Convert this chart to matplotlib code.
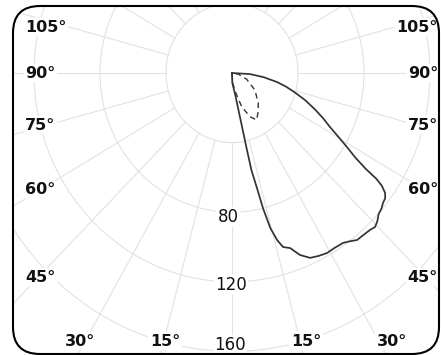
import numpy as np
import matplotlib.pyplot as plt
from matplotlib.patches import FancyBboxPatch
from matplotlib.transforms import IdentityTransform

# ---- data (angle from nadir in degrees, intensity in cd) ----
solid_angle = [0, 2, 9, 10.8, 11.6, 11.9, 12.9, 13.6, 14.6, 15.9, 17.2, 19.3,
               21.5, 24.0, 26.5, 29.1, 31.8, 34.6, 36.5, 38.3, 40.5, 42.8,
               44.4, 46.0, 47.6, 49.3, 50.8, 52.2, 53.4, 54.5, 55.2, 55.8,
               57.0, 58.6, 60.4, 62.4, 64.8, 67.4, 70.6, 74.0, 76.6, 79.2,
               82.8, 86.8, 90]
solid_cd = [0, 5.7, 13, 25.8, 45.2, 57, 68, 80, 92, 99.8, 104.7, 106.6,
            112.4, 116.3, 117.5, 118.4, 118.2, 118.6, 120.3, 122.3, 122.5, 123,
            123.9, 122.5, 120.3, 119.5, 118.1, 117.5, 115.6, 111.5, 106.5, 98,
            89, 81.6, 74, 67, 61, 54.5, 47, 39, 33.5, 27.8,
            19.5, 10.9, 0]

dashed_angle = [0, 4, 11.6, 16.9, 23.5, 29, 35.2, 42.5, 54.8, 68, 80, 90]
dashed_cd = [0, 5.9, 11.9, 20.3, 27.4, 30.9, 27.4, 23.6, 17, 9.6, 4, 0]

ring_values = [40, 80, 120, 160]
ring_labels = ["80", "120", "160"]
angle_labels_side = [105, 90, 75, 60, 45]
angle_labels_bottom = [30, 15]

# ---- layout ----
W, H = 441, 355
cx, cy = 232, 73          # pixel position of the centre (from top-left)
sx, sy = 1.65, 1.74       # pixels per cd horizontally / vertically

fig = plt.figure(figsize=(W / 100, H / 100), dpi=100)
ax = fig.add_axes([0, 0, 1, 1])
ax.axis('off')


def px(x, y):
    return (x - cx) / sx, (cy - y) / sy


frame = FancyBboxPatch((13, H - 354), 426, 348,
                       boxstyle="round,pad=0,rounding_size=27",
                       transform=IdentityTransform(), fill=False,
                       lw=1.5, ec='black', zorder=6)
ax.add_patch(frame)

grid_c = '#e2e2e2'
t = np.linspace(0, 2 * np.pi, 721)
for r in ring_values:
    ln, = ax.plot(r * np.sin(t), -r * np.cos(t), color=grid_c, lw=0.8, zorder=1)
    ln.set_clip_path(frame)
for a in range(0, 360, 15):
    ar = np.radians(a)
    ln, = ax.plot([40 * np.sin(ar), 400 * np.sin(ar)],
                  [-40 * np.cos(ar), -400 * np.cos(ar)],
                  color=grid_c, lw=0.8, zorder=1)
    ln.set_clip_path(frame)

th = np.radians(solid_angle)
r = np.array(solid_cd)
ax.plot(r * np.sin(th), -r * np.cos(th), color='#333333', lw=1.25, zorder=4,
        solid_joinstyle='round')

th = np.radians(dashed_angle)
r = np.array(dashed_cd)
ax.plot(r * np.sin(th), -r * np.cos(th), color='#333333', lw=1.0,
        dashes=(4, 3), zorder=4)

# ring labels
ring_pos = [(228, 217), (231, 285), (230, 345)]
for lab, (x, y) in zip(ring_labels, ring_pos):
    ax.text(*px(x, y), lab, ha='center', va='center', fontsize=12,
            color='#111111', zorder=5,
            bbox=dict(fc='white', ec='none', pad=1))

# angle labels
side_y = [27, 73, 125, 190, 277]
for a, y in zip(angle_labels_side, side_y):
    ax.text(*px(25, y), f"{a}°", ha='left', va='center', fontsize=11.5,
            fontweight='bold', color='#111111', zorder=5,
            bbox=dict(fc='white', ec='none', pad=1))
    ax.text(*px(438, y), f"{a}°", ha='right', va='center', fontsize=11.5,
            fontweight='bold', color='#111111', zorder=5,
            bbox=dict(fc='white', ec='none', pad=1))
bottom_left_x = [80, 165]
bottom_right_x = [392, 306]
for a, xl, xr in zip(angle_labels_bottom, bottom_left_x, bottom_right_x):
    for x in (xl, xr):
        ax.text(*px(x, 341), f"{a}°", ha='center', va='center', fontsize=11.5,
                fontweight='bold', color='#111111', zorder=5,
                bbox=dict(fc='white', ec='none', pad=1))

ax.set_xlim(-cx / sx, (W - cx) / sx)
ax.set_ylim(-(H - cy) / sy, cy / sy)

fig.savefig('out.png', dpi=100)
